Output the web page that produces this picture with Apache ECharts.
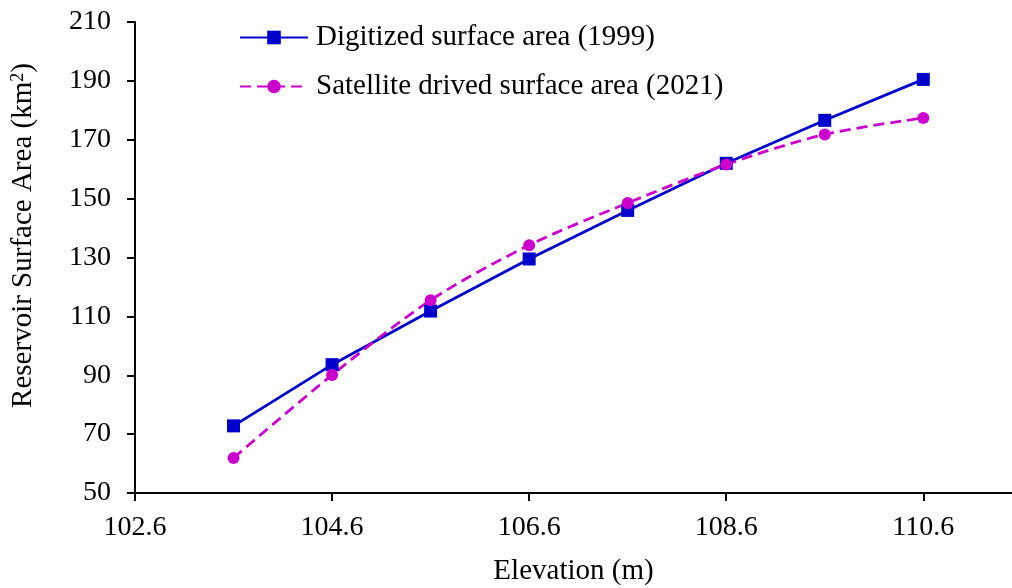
<!DOCTYPE html>
<html>
<head>
<meta charset="utf-8">
<script src="https://cdn.jsdelivr.net/npm/echarts@6/dist/echarts.min.js"></script>
<style>html,body{margin:0;padding:0;background:#fff}#c{width:1012px;height:588px}</style>
</head>
<body>
<div id="c"></div>
<script>
const elevation = [103.6, 104.6, 105.6, 106.6, 107.6, 108.6, 109.6, 110.6];
const digitized1999 = [72.8, 93.6, 111.8, 129.5, 146.0, 162.0, 176.6, 190.5];
const satellite2021 = [61.9, 90.1, 115.5, 134.2, 148.5, 161.6, 171.8, 177.4];
const seriesNames = ['Digitized surface area (1999)', 'Satellite drived surface area (2021)'];

const font = 'Liberation Serif, Times New Roman, serif';
const chart = echarts.init(document.getElementById('c'));
chart.setOption({
  animation: false,
  textStyle: { fontFamily: font, color: '#000' },
  grid: { left: 135, right: 0, top: 22, bottom: 95, containLabel: false, outerBoundsMode: 'none' },
  legend: {
    orient: 'vertical', left: 234, top: 18, itemWidth: 68, itemHeight: 17, itemGap: 20,
    textStyle: { fontFamily: font, fontSize: 29, color: '#000', padding: [0, 0, 0, 3] },
    data: seriesNames
  },
  xAxis: {
    type: 'value', min: 102.6, max: 111.5, interval: 2,
    name: 'Elevation (m)', nameLocation: 'middle', nameGap: 64,
    nameTextStyle: { fontFamily: font, fontSize: 29, color: '#000' },
    axisLine: { show: true, lineStyle: { color: '#000', width: 2 } },
    axisTick: { show: true, length: 8, lineStyle: { color: '#000', width: 2 } },
    axisLabel: { fontFamily: font, fontSize: 28, color: '#000', margin: 21, showMaxLabel: false,
      formatter: v => v.toFixed(1) },
    splitLine: { show: false }
  },
  yAxis: {
    type: 'value', min: 50, max: 210, interval: 20,
    name: '{t|Reservoir Surface Area (km}{s|2}{t|)}', nameLocation: 'middle', nameGap: 97,
    nameTextStyle: { fontFamily: font, fontSize: 29, color: '#000', padding: [0, 0, 0, 44],
      rich: { t: { fontFamily: font, fontSize: 29, color: '#000' },
              s: { fontFamily: font, fontSize: 18, color: '#000', verticalAlign: 'top', padding: [0, 0, 9, 0] } } },
    axisLine: { show: true, lineStyle: { color: '#000', width: 2 } },
    axisTick: { show: true, length: 8, lineStyle: { color: '#000', width: 2 } },
    axisLabel: { fontFamily: font, fontSize: 28, color: '#000', margin: 24 },
    splitLine: { show: false }
  },
  series: [
    {
      name: seriesNames[0], type: 'line',
      data: elevation.map((x, i) => [x, digitized1999[i]]),
      symbol: 'rect', symbolSize: 13,
      lineStyle: { color: '#0000CC', width: 2.8 },
      itemStyle: { color: '#0000CC' }
    },
    {
      name: seriesNames[1], type: 'line', smooth: 0.3,
      data: elevation.map((x, i) => [x, satellite2021[i]]),
      symbol: 'circle', symbolSize: 12,
      lineStyle: { color: '#CC00CC', width: 2.8, type: [11, 6] },
      itemStyle: { color: '#CC00CC' }
    }
  ]
});
</script>
</body>
</html>
